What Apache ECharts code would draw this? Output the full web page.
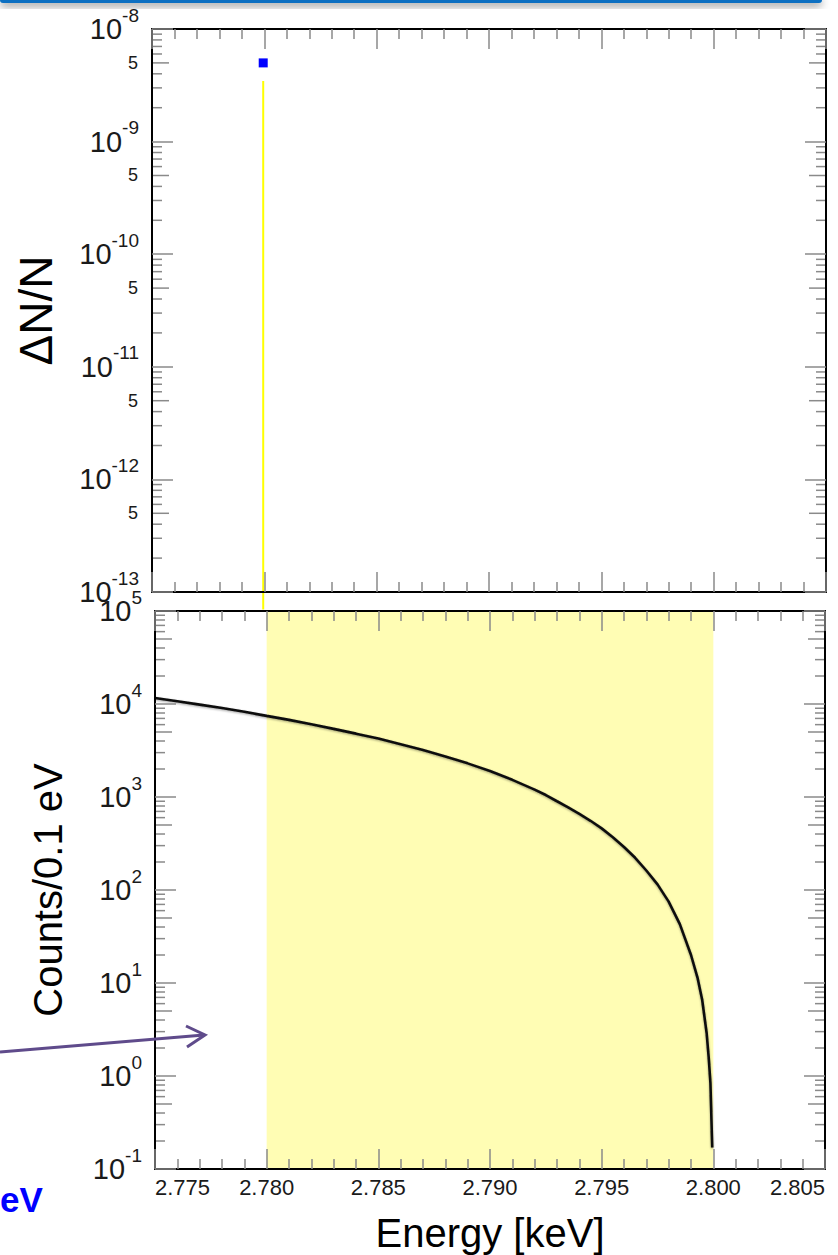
<!DOCTYPE html>
<html><head><meta charset="utf-8">
<script src="https://cdn.jsdelivr.net/npm/echarts@6/dist/echarts.min.js"></script>
<style>html,body{margin:0;padding:0;background:#fff}#c{width:838px;height:1255px}</style>
</head><body><div id="c"></div>
<script>
// ---- data ----
const xMin = 2.775, xMax = 2.805, xStep = 0.005;
const topYMin = 1e-13, topYMax = 1e-8;
const botYMin = 1e-1, botYMax = 1e5;
const topDecades = [-13, -12, -11, -10, -9];
const botDecades = [-1, 0, 1, 2, 3, 4];
const minorMantissas = [2, 3, 4, 5, 6, 7, 8, 9];
const bandRange = [2.780, 2.800];
const deltaPointX = [2.77995];
const deltaPointY = [5e-9];
const deltaBarY = [3.45e-9, 7e-14];
const energy = [2.775, 2.776, 2.777, 2.778, 2.779, 2.780, 2.781, 2.782, 2.783, 2.784,
  2.785, 2.786, 2.787, 2.788, 2.789, 2.790, 2.791, 2.792, 2.7925, 2.793, 2.7935, 2.794,
  2.7945, 2.795, 2.7955, 2.796, 2.7965, 2.797, 2.7975, 2.798, 2.7985, 2.799, 2.7993,
  2.7995, 2.7997, 2.7998, 2.79987, 2.79995];
const counts = [11600, 10700, 9850, 9050, 8250, 7450, 6750, 6050, 5400, 4800,
  4250, 3700, 3200, 2720, 2300, 1900, 1530, 1200, 1050, 900, 775, 660,
  555, 460, 370, 290, 222, 162, 115, 75, 43, 20, 11.2, 6.6, 2.9, 1.5, 0.84, 0.17];

// ---- helpers ----
const FONT = '"Liberation Sans", Arial, sans-serif';
const TICK = {color: '#8a8a8a', width: 1.5};
function minorData(decades) {
  const out = [];
  decades.forEach(k => minorMantissas.forEach(m => out.push([xMin, m * Math.pow(10, k), m])));
  return out;
}
function xAxisCfg(grid, pos, labels, name) {
  const c = {
    type: 'value', gridIndex: grid, position: pos, min: xMin, max: xMax, interval: xStep, z: 10,
    axisLine: {show: true, onZero: false, lineStyle: {color: '#000', width: 2}},
    axisTick: {show: true, inside: true, length: 20, lineStyle: TICK},
    minorTick: {show: true, splitNumber: 5, length: 10, lineStyle: TICK},
    splitLine: {show: false}, minorSplitLine: {show: false},
    axisLabel: {show: labels, fontSize: 22, fontFamily: FONT, color: '#1a1a1a', margin: 7,
      formatter: v => v.toFixed(3), alignMinLabel: 'left', alignMaxLabel: 'right'}
  };
  if (name) {
    Object.assign(c, {name: name, nameLocation: 'middle', nameGap: 44, nameMoveOverlap: false,
      nameTextStyle: {fontSize: 40, fontFamily: FONT, color: '#000'}});
  }
  return c;
}
function yAxisCfg(grid, pos, min, max, split, labels, name, nameSize, nameGap) {
  const c = {
    type: 'log', logBase: 10, gridIndex: grid, position: pos, min: min, max: max, splitNumber: split, z: 10,
    axisLine: {show: true, onZero: false, lineStyle: {color: '#000', width: 2}},
    axisTick: {show: true, inside: true, length: 21, lineStyle: TICK},
    splitLine: {show: false}, minorTick: {show: false},
    axisLabel: {show: labels, margin: 13, color: '#1a1a1a',
      formatter: v => '{b|10}{s|' + Math.round(Math.log10(v)) + '}',
      rich: {
        b: {fontSize: 29, fontFamily: FONT, color: '#1a1a1a', lineHeight: 47},
        s: {fontSize: 19, fontFamily: FONT, color: '#1a1a1a', verticalAlign: 'top', lineHeight: 19}
      }}
  };
  if (name) {
    Object.assign(c, {name: name, nameLocation: 'middle', nameGap: nameGap, nameRotate: 90, nameMoveOverlap: false,
      nameTextStyle: {fontSize: nameSize, fontFamily: FONT, color: '#000'}});
  }
  return c;
}
function minorTickSeries(xi, yi, decades, withFive) {
  return {
    type: 'custom', xAxisIndex: xi, yAxisIndex: yi, silent: true, z: 10, clip: false,
    data: minorData(decades),
    renderItem: (params, api) => {
      const v = api.value(1), m = api.value(2);
      const L = api.coord([xMin, v]), R = api.coord([xMax, v]);
      const len = m === 5 ? 17 : 10;
      const ch = [
        {type: 'line', shape: {x1: L[0], y1: L[1], x2: L[0] + len, y2: L[1]}, style: {stroke: TICK.color, lineWidth: 1.5}},
        {type: 'line', shape: {x1: R[0], y1: R[1], x2: R[0] - len, y2: R[1]}, style: {stroke: TICK.color, lineWidth: 1.5}}
      ];
      if (m === 5 && withFive) {
        ch.push({type: 'text', style: {text: '5', x: L[0] - 14, y: L[1], align: 'right', verticalAlign: 'middle',
          fontSize: 18, fontFamily: FONT, fill: '#1a1a1a'}});
      }
      return {type: 'group', children: ch};
    }
  };
}

const chart = echarts.init(document.getElementById('c'), null, {renderer: 'svg'});
chart.setOption({
  backgroundColor: '#fff',
  animation: false,
  grid: [
    {left: 152, top: 29, width: 674, height: 563, outerBoundsMode: 'none', containLabel: false},
    {left: 155, top: 611, width: 670, height: 558, outerBoundsMode: 'none', containLabel: false}
  ],
  xAxis: [
    xAxisCfg(0, 'bottom', false),
    xAxisCfg(0, 'top', false),
    xAxisCfg(1, 'bottom', true, 'Energy [keV]'),
    xAxisCfg(1, 'top', false)
  ],
  yAxis: [
    yAxisCfg(0, 'left', topYMin, topYMax, 5, true, 'ΔN/N', 46, 93),
    yAxisCfg(0, 'right', topYMin, topYMax, 5, false),
    yAxisCfg(1, 'left', botYMin, botYMax, 6, true, 'Counts/0.1 eV', 40, 87),
    yAxisCfg(1, 'right', botYMin, botYMax, 6, false)
  ],
  series: [
    {type: 'line', xAxisIndex: 0, yAxisIndex: 0, clip: false, showSymbol: false, silent: true,
      data: deltaBarY.map(y => [deltaPointX[0], y]), lineStyle: {color: '#ffff00', width: 2}, z: 3},
    {type: 'scatter', xAxisIndex: 0, yAxisIndex: 0, symbol: 'rect', symbolSize: 9, silent: true,
      data: deltaPointX.map((x, i) => [x, deltaPointY[i]]), itemStyle: {color: '#0000ff', opacity: 1}, z: 4},
    {type: 'line', xAxisIndex: 2, yAxisIndex: 2, showSymbol: false, silent: true, smooth: false,
      data: energy.map((e, i) => [e, counts[i]]),
      lineStyle: {color: '#0d0d0d', width: 2.6, shadowColor: 'rgba(0,0,0,0.35)', shadowBlur: 2, shadowOffsetY: 1},
      markArea: {silent: true, itemStyle: {color: '#fffdb4'},
        data: [[{xAxis: bandRange[0]}, {xAxis: bandRange[1]}]]}, z: 3},
    minorTickSeries(0, 0, topDecades, true),
    minorTickSeries(2, 2, botDecades, false)
  ],
  graphic: [
    {type: 'rect', shape: {x: 0, y: -3, width: 822, height: 6, r: 3},
      style: {fill: '#0a70c2', shadowBlur: 8, shadowColor: 'rgba(0,0,0,0.45)', shadowOffsetY: 3}, z: 100},
    {type: 'polyline', shape: {points: [[0, 1052], [204, 1035]]}, style: {stroke: '#5f4b8b', lineWidth: 3, fill: null}, z: 100},
    {type: 'polyline', shape: {points: [[186, 1026], [205, 1035], [187, 1047]]}, style: {stroke: '#5f4b8b', lineWidth: 3, fill: null}, z: 100},
    {type: 'text', style: {text: 'eV', x: 0, y: 1199, align: 'left', verticalAlign: 'middle',
      font: 'bold 35px "Liberation Sans", Arial, sans-serif', fill: '#0000ff'}, z: 100}
  ]
});
</script>
</body></html>
